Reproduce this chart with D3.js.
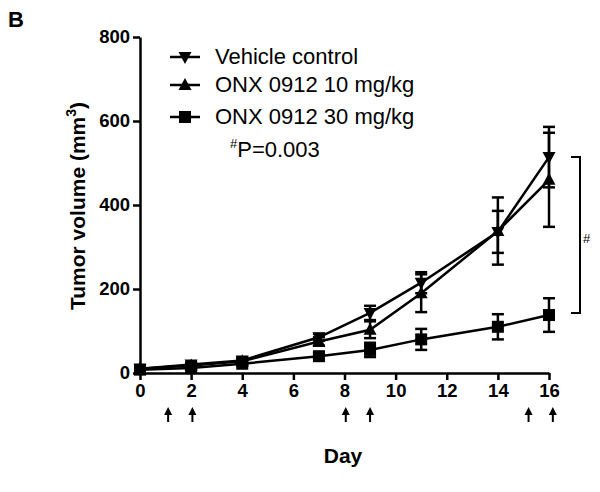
<!DOCTYPE html>
<html><head><meta charset="utf-8">
<script src="https://cdn.jsdelivr.net/npm/d3@7"></script>
<style>body{margin:0;background:#fff}svg{font-family:Arial,"Liberation Sans",sans-serif}</style>
</head><body>
<svg id="c" width="600" height="492"></svg>
<script>
const days = [0, 2, 4, 7, 9, 11, 14, 16];
const seriesNames = ["Vehicle control", "ONX 0912 10 mg/kg", "ONX 0912 30 mg/kg"];
const vehicle = [10, 20, 30, 85, 143, 215, 336, 514];
const vehicleErr = [4, 6, 7, 8, 17, 25, 50, 72];
const onx10 = [10, 18, 28, 75, 103, 190, 338, 460];
const onx10Err = [4, 5, 6, 10, 20, 45, 80, 112];
const onx30 = [8, 12, 22, 40, 55, 80, 110, 138];
const onx30Err = [3, 4, 5, 7, 17, 25, 30, 40];
const doseDays = [1.1, 2.05, 8.05, 9, 15.2, 16.15];
const yTicks = [0, 200, 400, 600, 800];
const xTicks = [0, 2, 4, 6, 8, 10, 12, 14, 16];

const svg = d3.select("#c");
const x = d3.scaleLinear().domain([0, 16]).range([140, 549]);
const y = d3.scaleLinear().domain([0, 800]).range([373, 37]);

// axes
const xa = svg.append("g").attr("transform", "translate(0,373)")
  .call(d3.axisBottom(x).tickValues(xTicks).tickSize(7).tickSizeOuter(0).tickPadding(4));
const ya = svg.append("g").attr("transform", "translate(140,0)")
  .call(d3.axisLeft(y).tickValues(yTicks).tickSize(7).tickSizeOuter(0).tickPadding(3));
[xa, ya].forEach(a => {
  a.selectAll("path,line").attr("stroke", "#000").attr("stroke-width", 2.5);
  a.selectAll("text").attr("fill", "#000").attr("font-size", 18.5).attr("font-weight", "bold")
   .attr("font-family", "Arial, 'Liberation Sans', sans-serif");
});

const data = [
  {name: seriesNames[0], v: vehicle, e: vehicleErr, sym: "down"},
  {name: seriesNames[1], v: onx10, e: onx10Err, sym: "up"},
  {name: seriesNames[2], v: onx30, e: onx30Err, sym: "square"}
];

function marker(g, cx, cy, sym) {
  if (sym === "square") {
    g.append("rect").attr("x", cx - 6).attr("y", cy - 6).attr("width", 12).attr("height", 12).attr("fill", "#000");
  } else if (sym === "up") {
    g.append("path").attr("d", `M${cx},${cy-7}L${cx+6.5},${cy+5}L${cx-6.5},${cy+5}Z`).attr("fill", "#000");
  } else {
    g.append("path").attr("d", `M${cx},${cy+7}L${cx+6.5},${cy-5}L${cx-6.5},${cy-5}Z`).attr("fill", "#000");
  }
}

const line = d3.line().x(d => x(d[0])).y(d => y(d[1]));
data.forEach(s => {
  const g = svg.append("g");
  const pts = days.map((d, i) => [d, s.v[i]]);
  g.append("path").attr("d", line(pts)).attr("fill", "none").attr("stroke", "#000").attr("stroke-width", 2.5);
  days.forEach((d, i) => {
    const cx = x(d), hi = y(s.v[i] + s.e[i]), lo = y(Math.max(0, s.v[i] - s.e[i]));
    g.append("line").attr("x1", cx).attr("x2", cx).attr("y1", hi).attr("y2", lo).attr("stroke", "#000").attr("stroke-width", 2.5);
    [hi, lo].forEach(yy => g.append("line").attr("x1", cx - 6).attr("x2", cx + 6).attr("y1", yy).attr("y2", yy).attr("stroke", "#000").attr("stroke-width", 2.5));
    marker(g, cx, y(s.v[i]), s.sym);
  });
});

// dosing arrows
doseDays.forEach(d => {
  const cx = x(d);
  svg.append("line").attr("x1", cx).attr("x2", cx).attr("y1", 413).attr("y2", 422).attr("stroke", "#000").attr("stroke-width", 2);
  svg.append("path").attr("d", `M${cx},${407}L${cx+4},${415}L${cx-4},${415}Z`).attr("fill", "#000");
});

// bracket
svg.append("path").attr("d", "M571,157H580V313H571").attr("fill", "none").attr("stroke", "#000").attr("stroke-width", 2);
svg.append("text").attr("x", 583).attr("y", 243).attr("font-size", 13).text("#");

// legend
const legY = [57, 85, 117];
data.forEach((s, i) => {
  const g = svg.append("g");
  g.append("line").attr("x1", 170).attr("x2", 200).attr("y1", legY[i]).attr("y2", legY[i]).attr("stroke", "#000").attr("stroke-width", 2.5);
  marker(g, 185, legY[i], s.sym);
  g.append("text").attr("x", 215).attr("y", legY[i] + 7).attr("font-size", 22).text(s.name);
});
const pt = svg.append("text").attr("x", 230).attr("y", 157).attr("font-size", 22);
pt.append("tspan").attr("font-size", 13).attr("dy", -9).text("#");
pt.append("tspan").attr("dy", 9).text("P=0.003");

// axis titles
svg.append("text").attr("x", 343).attr("y", 463).attr("text-anchor", "middle").attr("font-size", 21).attr("font-weight", "bold").text("Day");
const yt = svg.append("text").attr("transform", "translate(85,206) rotate(-90)").attr("text-anchor", "middle")
  .attr("font-size", 21).attr("font-weight", "bold");
yt.append("tspan").text("Tumor volume (mm");
yt.append("tspan").attr("font-size", 14).attr("dy", -9).text("3");
yt.append("tspan").attr("dy", 9).text(")");

svg.append("text").attr("x", 8).attr("y", 27).attr("font-size", 22).attr("font-weight", "bold").text("B");
</script>
</body></html>
